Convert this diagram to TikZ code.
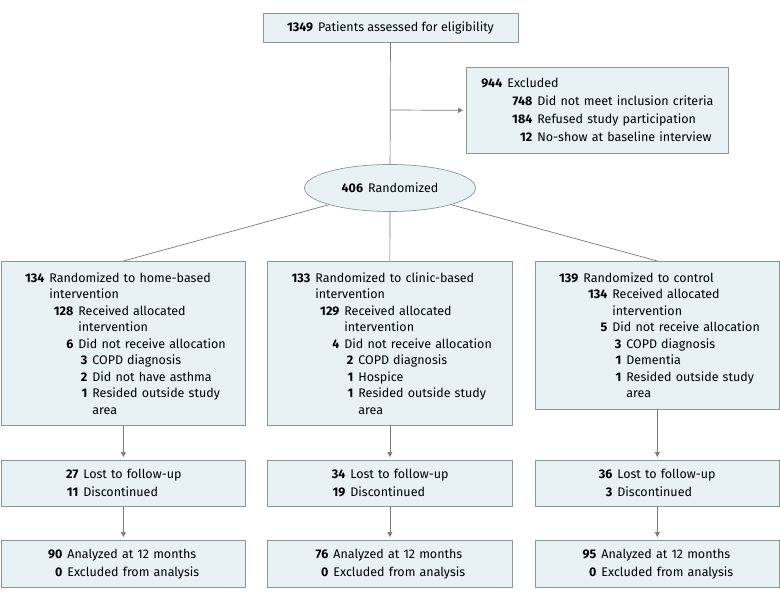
\documentclass[tikz,border=0pt]{standalone}
\usepackage{fontspec}
\setmainfont{Fira Sans}
\usetikzlibrary{arrows.meta,shapes.geometric}
\definecolor{boxfill}{HTML}{E8F1F3}
\definecolor{boxline}{HTML}{8C979B}
\definecolor{wire}{HTML}{7A7A7A}
% number column: right edge at #1pt, then the text
\newcommand{\nrow}[3]{\makebox[#1pt][r]{\textbf{#2}}\hspace{5pt}#3}
\newcommand{\crow}[2]{\hspace*{\dimexpr#1pt+5pt\relax}#2}

\begin{document}
\begin{tikzpicture}[x=1pt, y=-1pt, line width=0.7pt,
  box/.style={draw=boxline, fill=boxfill, rectangle, inner xsep=0pt, inner ysep=0pt,
    align=left, font=\fontsize{12.5}{16.5}\selectfont},
  small/.style={box, font=\fontsize{12.5}{18}\selectfont},
  link/.style={draw=wire},
  arr/.style={draw=wire, -{Triangle[length=5pt,width=5pt]}, shorten >=3pt}]
\useasboundingbox (0,0) rectangle (780,600);

\node[box, align=center, minimum width=255pt, minimum height=29pt] (elig) at (390.5,27.5)
  {\textbf{1349}\hspace{5pt}Patients assessed for eligibility};
\node[small, anchor=north west, text width=262pt, minimum height=86pt] (excl) at (466,67)
  {\nrow{36}{944}{Excluded}\\
   \nrow{66}{748}{Did not meet inclusion criteria}\\
   \nrow{66}{184}{Refused study participation}\\
   \nrow{66}{12}{No-show at baseline interview}};
\node[draw=boxline, fill=boxfill, ellipse, minimum width=171pt, minimum height=47pt,
  font=\fontsize{12.5}{16.5}\selectfont] (rand) at (390,188)
  {\textbf{406}\hspace{5pt}Randomized};

\node[box, anchor=north west, text width=244pt, minimum height=164pt] (home) at (1,261)
  {\nrow{43}{134}{Randomized to home-based}\\
   \crow{43}{intervention}\\
   \nrow{72}{128}{Received allocated}\\
   \crow{72}{intervention}\\
   \nrow{72}{6}{Did not receive allocation}\\
   \nrow{86}{3}{COPD diagnosis}\\
   \nrow{86}{2}{Did not have asthma}\\
   \nrow{86}{1}{Resided outside study}\\
   \crow{86}{area}};
\node[box, anchor=north west, text width=245pt, minimum height=164pt] (clinic) at (267,261)
  {\nrow{43}{133}{Randomized to clinic-based}\\
   \crow{43}{intervention}\\
   \nrow{72}{129}{Received allocated}\\
   \crow{72}{intervention}\\
   \nrow{72}{4}{Did not receive allocation}\\
   \nrow{86}{2}{COPD diagnosis}\\
   \nrow{86}{1}{Hospice}\\
   \nrow{86}{1}{Resided outside study}\\
   \crow{86}{area}};
\node[box, anchor=north west, text width=244pt, minimum height=148pt] (ctrl) at (535,261)
  {\nrow{43}{139}{Randomized to control}\\
   \nrow{72}{134}{Received allocated}\\
   \crow{72}{intervention}\\
   \nrow{72}{5}{Did not receive allocation}\\
   \nrow{86}{3}{COPD diagnosis}\\
   \nrow{86}{1}{Dementia}\\
   \nrow{86}{1}{Resided outside study}\\
   \crow{86}{area}};

\node[small, anchor=north west, text width=244pt, minimum height=46pt] (lost1) at (1,460)
  {\nrow{77}{27}{Lost to follow-up}\\ \nrow{77}{11}{Discontinued}};
\node[small, anchor=north west, text width=245pt, minimum height=46pt] (lost2) at (267,460)
  {\nrow{78}{34}{Lost to follow-up}\\ \nrow{78}{19}{Discontinued}};
\node[small, anchor=north west, text width=244pt, minimum height=46pt] (lost3) at (535,460)
  {\nrow{77}{36}{Lost to follow-up}\\ \nrow{77}{3}{Discontinued}};

\node[small, anchor=north west, text width=244pt, minimum height=47pt] (anal1) at (1,540)
  {\nrow{61}{90}{Analyzed at 12 months}\\ \nrow{61}{0}{Excluded from analysis}};
\node[small, anchor=north west, text width=245pt, minimum height=47pt] (anal2) at (267,540)
  {\nrow{61}{76}{Analyzed at 12 months}\\ \nrow{61}{0}{Excluded from analysis}};
\node[small, anchor=north west, text width=244pt, minimum height=47pt] (anal3) at (535,540)
  {\nrow{61}{95}{Analyzed at 12 months}\\ \nrow{61}{0}{Excluded from analysis}};

\coordinate (split) at (390,110);
\draw[link] (elig) -- (rand);
\draw[arr] (split) -- (excl.west);
\draw[link] (rand) -- (home.north);
\draw[link] (rand) -- (clinic.north);
\draw[link] (rand) -- (ctrl.north);
\draw[arr] (home) -- (lost1);
\draw[arr] (clinic) -- (lost2);
\draw[arr] (ctrl) -- (lost3);
\draw[arr] (lost1) -- (anal1);
\draw[arr] (lost2) -- (anal2);
\draw[arr] (lost3) -- (anal3);
\end{tikzpicture}
\end{document}
